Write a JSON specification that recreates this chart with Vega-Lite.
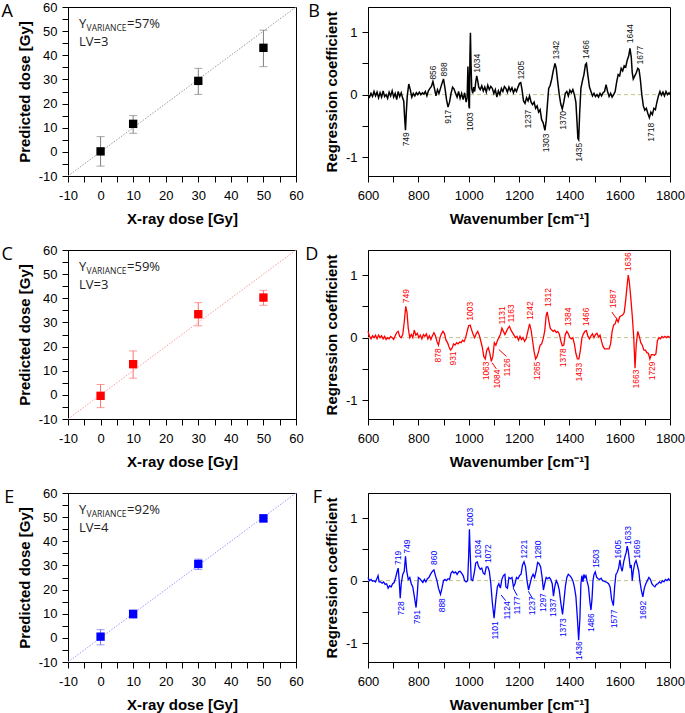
{
"$schema": "https://vega.github.io/schema/vega-lite/v6.json",
"background": "white",
"padding": {"left": 0, "top": 0, "right": 0, "bottom": 0},
"columns": 2,
"spacing": {"row": 74, "column": 72},
"bounds": "flush",
"config": {
  "view": {"stroke": "black", "strokeWidth": 1},
  "axis": {"grid": false, "domainColor": "black", "tickColor": "black", "tickSize": 6, "labelFont": "Liberation Sans", "labelFontSize": 13, "labelColor": "black", "labelPadding": 5, "titleFont": "Liberation Sans", "titleFontSize": 15, "titleFontWeight": "bold", "titleColor": "black", "titlePadding": 6, "labelOverlap": false, "labelFlush": false},
  "axisX": {"titlePadding": 9, "labelPadding": 7}
},
"datasets": {
  "A": [{"x":0,"y":0.2,"lo":-5.9,"hi":6.3},{"x":10,"y":11.6,"lo":7.7,"hi":15},{"x":30,"y":29.4,"lo":23.8,"hi":34.6},{"x":50,"y":43.1,"lo":35.3,"hi":50.4}],
  "C": [{"x":0,"y":-0.4,"lo":-5.3,"hi":4.3},{"x":10,"y":12.7,"lo":6.9,"hi":18.2},{"x":30,"y":33.4,"lo":28.6,"hi":38.2},{"x":50,"y":40.3,"lo":37.1,"hi":43.3}],
  "E": [{"x":0,"y":0.5,"lo":-2.9,"hi":3.4},{"x":10,"y":9.9,"lo":8.1,"hi":11.5},{"x":30,"y":30.6,"lo":28.3,"hi":32.6},{"x":50,"y":49.5,"lo":47.9,"hi":50.9}],
  "diag": [{"x":-10,"y":-10},{"x":60,"y":60}],
  "sB": [{"w":600,"c":0.0},{"w":606,"c":-0.04},{"w":612,"c":0.02},{"w":618,"c":-0.03},{"w":624,"c":0.05},{"w":630,"c":-0.02},{"w":636,"c":0.04},{"w":642,"c":-0.05},{"w":648,"c":0.03},{"w":654,"c":-0.04},{"w":660,"c":0.06},{"w":666,"c":-0.03},{"w":672,"c":0.0},{"w":678,"c":-0.06},{"w":684,"c":0.04},{"w":690,"c":-0.02},{"w":696,"c":0.06},{"w":702,"c":-0.04},{"w":708,"c":0.02},{"w":714,"c":-0.08},{"w":720,"c":0.05},{"w":726,"c":-0.03},{"w":732,"c":0.03},{"w":738,"c":-0.06},{"w":742,"c":-0.1},{"w":746,"c":-0.4},{"w":749,"c":-0.57},{"w":752,"c":-0.3},{"w":756,"c":-0.02},{"w":762,"c":0.17},{"w":768,"c":0.08},{"w":774,"c":-0.04},{"w":780,"c":0.02},{"w":786,"c":-0.02},{"w":792,"c":0.03},{"w":798,"c":0.0},{"w":804,"c":0.04},{"w":810,"c":0.0},{"w":816,"c":0.03},{"w":822,"c":0.01},{"w":828,"c":0.05},{"w":834,"c":-0.02},{"w":840,"c":0.06},{"w":846,"c":0.1},{"w":852,"c":0.13},{"w":858,"c":0.21},{"w":864,"c":0.1},{"w":870,"c":-0.02},{"w":876,"c":0.08},{"w":882,"c":0.02},{"w":888,"c":0.1},{"w":894,"c":0.18},{"w":900,"c":0.25},{"w":906,"c":0.1},{"w":912,"c":-0.08},{"w":918,"c":-0.2},{"w":924,"c":-0.12},{"w":930,"c":0.02},{"w":936,"c":0.12},{"w":942,"c":0.09},{"w":948,"c":0.02},{"w":954,"c":-0.04},{"w":960,"c":0.05},{"w":966,"c":-0.06},{"w":972,"c":0.02},{"w":978,"c":-0.08},{"w":984,"c":0.03},{"w":990,"c":-0.12},{"w":994,"c":-0.05},{"w":997,"c":0.45},{"w":999,"c":0.2},{"w":1001,"c":-0.18},{"w":1003,"c":-0.22},{"w":1005,"c":0.6},{"w":1007,"c":0.99},{"w":1009,"c":0.55},{"w":1012,"c":0.1},{"w":1016,"c":0.02},{"w":1020,"c":0.12},{"w":1024,"c":0.05},{"w":1028,"c":0.2},{"w":1032,"c":0.3},{"w":1036,"c":0.22},{"w":1040,"c":0.12},{"w":1046,"c":0.08},{"w":1052,"c":0.14},{"w":1058,"c":0.06},{"w":1064,"c":0.12},{"w":1070,"c":0.04},{"w":1076,"c":0.15},{"w":1082,"c":0.08},{"w":1088,"c":0.13},{"w":1094,"c":0.1},{"w":1100,"c":0.02},{"w":1106,"c":0.08},{"w":1112,"c":-0.04},{"w":1118,"c":0.06},{"w":1124,"c":0.0},{"w":1130,"c":0.1},{"w":1136,"c":0.05},{"w":1142,"c":0.13},{"w":1148,"c":0.1},{"w":1154,"c":0.04},{"w":1160,"c":0.12},{"w":1166,"c":0.06},{"w":1172,"c":0.11},{"w":1178,"c":0.03},{"w":1184,"c":0.09},{"w":1190,"c":0.05},{"w":1196,"c":0.12},{"w":1202,"c":0.18},{"w":1207,"c":0.19},{"w":1212,"c":0.08},{"w":1218,"c":-0.1},{"w":1224,"c":-0.14},{"w":1230,"c":-0.05},{"w":1236,"c":-0.1},{"w":1242,"c":-0.02},{"w":1248,"c":-0.12},{"w":1254,"c":-0.16},{"w":1260,"c":-0.12},{"w":1266,"c":-0.22},{"w":1272,"c":-0.18},{"w":1278,"c":-0.28},{"w":1284,"c":-0.24},{"w":1290,"c":-0.4},{"w":1296,"c":-0.45},{"w":1303,"c":-0.57},{"w":1308,"c":-0.42},{"w":1314,"c":-0.1},{"w":1318,"c":0.1},{"w":1324,"c":0.15},{"w":1330,"c":0.25},{"w":1336,"c":0.38},{"w":1343,"c":0.5},{"w":1348,"c":0.42},{"w":1354,"c":0.2},{"w":1360,"c":0.0},{"w":1366,"c":-0.15},{"w":1372,"c":-0.23},{"w":1378,"c":-0.12},{"w":1384,"c":0.02},{"w":1390,"c":0.05},{"w":1396,"c":-0.02},{"w":1402,"c":0.07},{"w":1408,"c":0.03},{"w":1414,"c":0.08},{"w":1420,"c":0.0},{"w":1426,"c":-0.12},{"w":1430,"c":-0.4},{"w":1434,"c":-0.7},{"w":1437,"c":-0.72},{"w":1441,"c":-0.3},{"w":1446,"c":0.1},{"w":1452,"c":0.22},{"w":1458,"c":0.32},{"w":1464,"c":0.48},{"w":1468,"c":0.5},{"w":1474,"c":0.3},{"w":1480,"c":0.12},{"w":1486,"c":0.05},{"w":1492,"c":-0.02},{"w":1498,"c":0.02},{"w":1504,"c":-0.03},{"w":1510,"c":0.0},{"w":1516,"c":-0.04},{"w":1522,"c":0.02},{"w":1528,"c":-0.02},{"w":1534,"c":0.03},{"w":1540,"c":0.05},{"w":1546,"c":0.16},{"w":1552,"c":0.05},{"w":1558,"c":-0.03},{"w":1564,"c":0.02},{"w":1570,"c":-0.04},{"w":1576,"c":0.0},{"w":1582,"c":0.05},{"w":1588,"c":0.2},{"w":1594,"c":0.32},{"w":1600,"c":0.3},{"w":1606,"c":0.42},{"w":1612,"c":0.38},{"w":1618,"c":0.46},{"w":1624,"c":0.44},{"w":1630,"c":0.55},{"w":1636,"c":0.62},{"w":1641,"c":0.74},{"w":1646,"c":0.6},{"w":1650,"c":0.35},{"w":1654,"c":0.25},{"w":1660,"c":0.3},{"w":1666,"c":0.35},{"w":1672,"c":0.42},{"w":1677,"c":0.4},{"w":1682,"c":0.25},{"w":1688,"c":0.0},{"w":1694,"c":-0.18},{"w":1700,"c":-0.25},{"w":1706,"c":-0.22},{"w":1712,"c":-0.3},{"w":1718,"c":-0.37},{"w":1724,"c":-0.28},{"w":1730,"c":-0.32},{"w":1736,"c":-0.22},{"w":1742,"c":-0.24},{"w":1748,"c":-0.12},{"w":1754,"c":-0.02},{"w":1760,"c":0.05},{"w":1766,"c":-0.01},{"w":1772,"c":0.04},{"w":1778,"c":-0.02},{"w":1784,"c":0.05},{"w":1790,"c":0.0},{"w":1796,"c":0.03},{"w":1800,"c":0.0}],
  "sD": [{"w":600,"c":0.1},{"w":606,"c":0.02},{"w":612,"c":-0.02},{"w":618,"c":0.03},{"w":624,"c":0.0},{"w":630,"c":0.04},{"w":636,"c":-0.02},{"w":642,"c":0.04},{"w":648,"c":0.0},{"w":654,"c":0.03},{"w":660,"c":-0.02},{"w":666,"c":0.02},{"w":672,"c":-0.03},{"w":678,"c":0.0},{"w":684,"c":-0.02},{"w":690,"c":0.02},{"w":696,"c":0.0},{"w":702,"c":-0.03},{"w":708,"c":0.03},{"w":714,"c":0.08},{"w":720,"c":0.1},{"w":726,"c":0.02},{"w":732,"c":0.0},{"w":738,"c":0.05},{"w":744,"c":0.25},{"w":750,"c":0.5},{"w":755,"c":0.4},{"w":760,"c":0.15},{"w":766,"c":0.0},{"w":772,"c":0.05},{"w":778,"c":0.0},{"w":784,"c":0.12},{"w":790,"c":0.04},{"w":796,"c":0.07},{"w":802,"c":0.0},{"w":808,"c":0.04},{"w":814,"c":-0.02},{"w":820,"c":0.05},{"w":826,"c":0.02},{"w":832,"c":0.06},{"w":838,"c":-0.02},{"w":844,"c":0.03},{"w":850,"c":-0.03},{"w":856,"c":0.03},{"w":862,"c":0.08},{"w":868,"c":0.03},{"w":874,"c":-0.06},{"w":880,"c":-0.12},{"w":886,"c":0.0},{"w":892,"c":0.06},{"w":898,"c":0.1},{"w":904,"c":0.06},{"w":910,"c":-0.04},{"w":916,"c":-0.08},{"w":922,"c":-0.15},{"w":928,"c":-0.2},{"w":934,"c":-0.17},{"w":940,"c":-0.1},{"w":946,"c":-0.12},{"w":952,"c":-0.08},{"w":958,"c":-0.1},{"w":964,"c":-0.07},{"w":970,"c":-0.08},{"w":976,"c":-0.04},{"w":982,"c":-0.06},{"w":988,"c":0.0},{"w":994,"c":0.1},{"w":1000,"c":0.19},{"w":1006,"c":0.2},{"w":1012,"c":0.12},{"w":1018,"c":0.05},{"w":1024,"c":0.0},{"w":1030,"c":0.06},{"w":1036,"c":0.1},{"w":1042,"c":0.04},{"w":1048,"c":-0.05},{"w":1054,"c":-0.15},{"w":1060,"c":-0.3},{"w":1066,"c":-0.34},{"w":1072,"c":-0.2},{"w":1078,"c":-0.16},{"w":1084,"c":-0.25},{"w":1090,"c":-0.38},{"w":1096,"c":-0.3},{"w":1102,"c":-0.08},{"w":1108,"c":-0.12},{"w":1114,"c":-0.05},{"w":1120,"c":0.0},{"w":1126,"c":0.05},{"w":1132,"c":0.15},{"w":1138,"c":0.1},{"w":1144,"c":0.05},{"w":1150,"c":0.1},{"w":1156,"c":0.15},{"w":1162,"c":0.18},{"w":1168,"c":0.12},{"w":1174,"c":0.08},{"w":1180,"c":0.04},{"w":1186,"c":0.0},{"w":1192,"c":0.02},{"w":1198,"c":-0.04},{"w":1204,"c":0.02},{"w":1210,"c":-0.03},{"w":1216,"c":0.0},{"w":1222,"c":-0.06},{"w":1228,"c":-0.02},{"w":1234,"c":0.08},{"w":1242,"c":0.22},{"w":1248,"c":0.12},{"w":1254,"c":-0.05},{"w":1260,"c":-0.22},{"w":1266,"c":-0.34},{"w":1272,"c":-0.3},{"w":1278,"c":-0.22},{"w":1284,"c":-0.12},{"w":1290,"c":-0.1},{"w":1296,"c":-0.02},{"w":1302,"c":0.1},{"w":1308,"c":0.35},{"w":1312,"c":0.41},{"w":1318,"c":0.28},{"w":1324,"c":0.15},{"w":1330,"c":0.12},{"w":1336,"c":0.1},{"w":1342,"c":0.12},{"w":1348,"c":0.08},{"w":1354,"c":0.1},{"w":1360,"c":0.06},{"w":1366,"c":-0.05},{"w":1372,"c":-0.13},{"w":1378,"c":-0.12},{"w":1384,"c":0.05},{"w":1390,"c":0.1},{"w":1396,"c":0.06},{"w":1402,"c":0.0},{"w":1408,"c":-0.02},{"w":1414,"c":0.0},{"w":1420,"c":-0.1},{"w":1426,"c":-0.25},{"w":1432,"c":-0.34},{"w":1438,"c":-0.34},{"w":1444,"c":-0.2},{"w":1450,"c":0.0},{"w":1456,"c":0.06},{"w":1462,"c":0.1},{"w":1468,"c":0.11},{"w":1474,"c":0.02},{"w":1480,"c":-0.02},{"w":1486,"c":0.03},{"w":1492,"c":0.06},{"w":1498,"c":0.0},{"w":1504,"c":0.05},{"w":1510,"c":0.07},{"w":1516,"c":0.01},{"w":1522,"c":0.04},{"w":1528,"c":-0.06},{"w":1534,"c":-0.14},{"w":1540,"c":-0.18},{"w":1546,"c":-0.18},{"w":1552,"c":-0.18},{"w":1558,"c":-0.18},{"w":1564,"c":-0.1},{"w":1570,"c":0.1},{"w":1576,"c":0.2},{"w":1582,"c":0.22},{"w":1588,"c":0.3},{"w":1594,"c":0.25},{"w":1600,"c":0.33},{"w":1606,"c":0.35},{"w":1612,"c":0.36},{"w":1618,"c":0.4},{"w":1624,"c":0.6},{"w":1630,"c":0.85},{"w":1634,"c":1.0},{"w":1638,"c":0.9},{"w":1644,"c":0.65},{"w":1650,"c":0.35},{"w":1656,"c":0.0},{"w":1661,"c":-0.49},{"w":1666,"c":-0.1},{"w":1672,"c":0.1},{"w":1678,"c":0.02},{"w":1684,"c":-0.08},{"w":1690,"c":-0.12},{"w":1696,"c":-0.2},{"w":1702,"c":-0.2},{"w":1708,"c":-0.24},{"w":1714,"c":-0.25},{"w":1720,"c":-0.34},{"w":1726,"c":-0.27},{"w":1732,"c":-0.27},{"w":1738,"c":-0.28},{"w":1744,"c":-0.26},{"w":1750,"c":-0.05},{"w":1756,"c":0.0},{"w":1762,"c":-0.02},{"w":1768,"c":0.02},{"w":1774,"c":0.0},{"w":1780,"c":0.02},{"w":1786,"c":0.0},{"w":1792,"c":0.02},{"w":1800,"c":0.0}],
  "sF": [{"w":600,"c":0.05},{"w":606,"c":0.0},{"w":612,"c":0.02},{"w":618,"c":-0.01},{"w":624,"c":0.0},{"w":630,"c":-0.02},{"w":636,"c":0.04},{"w":640,"c":0.08},{"w":644,"c":-0.02},{"w":650,"c":-0.02},{"w":656,"c":-0.04},{"w":662,"c":-0.02},{"w":668,"c":-0.06},{"w":674,"c":-0.05},{"w":680,"c":-0.12},{"w":686,"c":-0.08},{"w":692,"c":-0.1},{"w":698,"c":-0.05},{"w":704,"c":-0.03},{"w":710,"c":0.05},{"w":716,"c":0.15},{"w":720,"c":0.2},{"w":724,"c":0.0},{"w":728,"c":-0.28},{"w":732,"c":-0.05},{"w":738,"c":0.1},{"w":744,"c":0.15},{"w":749,"c":0.39},{"w":754,"c":0.15},{"w":760,"c":0.02},{"w":766,"c":0.05},{"w":772,"c":-0.05},{"w":778,"c":-0.1},{"w":784,"c":-0.25},{"w":791,"c":-0.43},{"w":796,"c":-0.2},{"w":800,"c":0.05},{"w":806,"c":0.03},{"w":812,"c":0.0},{"w":818,"c":-0.03},{"w":824,"c":0.02},{"w":830,"c":-0.02},{"w":836,"c":0.03},{"w":842,"c":0.05},{"w":848,"c":0.1},{"w":856,"c":0.15},{"w":862,"c":0.17},{"w":868,"c":0.08},{"w":874,"c":0.0},{"w":880,"c":-0.12},{"w":888,"c":-0.22},{"w":894,"c":-0.12},{"w":900,"c":0.0},{"w":906,"c":0.02},{"w":912,"c":0.0},{"w":918,"c":0.03},{"w":924,"c":0.02},{"w":930,"c":0.12},{"w":936,"c":0.15},{"w":942,"c":0.12},{"w":948,"c":0.14},{"w":954,"c":0.1},{"w":960,"c":0.14},{"w":966,"c":0.15},{"w":972,"c":0.12},{"w":978,"c":0.08},{"w":984,"c":0.0},{"w":990,"c":-0.02},{"w":996,"c":0.0},{"w":1000,"c":0.4},{"w":1003,"c":0.82},{"w":1006,"c":0.45},{"w":1010,"c":0.02},{"w":1016,"c":0.0},{"w":1022,"c":0.12},{"w":1028,"c":0.28},{"w":1034,"c":0.3},{"w":1040,"c":0.22},{"w":1046,"c":0.18},{"w":1052,"c":0.2},{"w":1058,"c":0.12},{"w":1064,"c":0.1},{"w":1070,"c":0.22},{"w":1076,"c":0.22},{"w":1082,"c":0.15},{"w":1088,"c":-0.05},{"w":1094,"c":-0.35},{"w":1101,"c":-0.6},{"w":1108,"c":-0.3},{"w":1114,"c":-0.1},{"w":1120,"c":-0.05},{"w":1126,"c":-0.12},{"w":1132,"c":0.02},{"w":1138,"c":0.08},{"w":1144,"c":0.1},{"w":1148,"c":-0.1},{"w":1154,"c":-0.12},{"w":1160,"c":0.05},{"w":1166,"c":0.03},{"w":1172,"c":0.05},{"w":1178,"c":-0.1},{"w":1184,"c":-0.05},{"w":1190,"c":0.05},{"w":1196,"c":0.03},{"w":1202,"c":0.08},{"w":1208,"c":0.1},{"w":1214,"c":0.25},{"w":1220,"c":0.3},{"w":1226,"c":0.22},{"w":1232,"c":0.0},{"w":1238,"c":-0.15},{"w":1244,"c":-0.05},{"w":1250,"c":0.05},{"w":1256,"c":0.1},{"w":1262,"c":0.05},{"w":1268,"c":0.15},{"w":1274,"c":0.29},{"w":1280,"c":0.27},{"w":1286,"c":0.22},{"w":1292,"c":0.05},{"w":1297,"c":-0.15},{"w":1302,"c":-0.05},{"w":1308,"c":0.05},{"w":1314,"c":0.03},{"w":1320,"c":0.05},{"w":1326,"c":0.02},{"w":1332,"c":-0.05},{"w":1337,"c":-0.25},{"w":1342,"c":-0.1},{"w":1348,"c":0.0},{"w":1354,"c":-0.05},{"w":1360,"c":-0.15},{"w":1366,"c":-0.35},{"w":1373,"c":-0.54},{"w":1378,"c":-0.35},{"w":1384,"c":-0.1},{"w":1390,"c":0.05},{"w":1396,"c":0.1},{"w":1402,"c":0.08},{"w":1408,"c":0.05},{"w":1414,"c":0.0},{"w":1420,"c":-0.1},{"w":1426,"c":-0.25},{"w":1432,"c":-0.6},{"w":1437,"c":-0.95},{"w":1442,"c":-0.6},{"w":1446,"c":-0.05},{"w":1450,"c":0.08},{"w":1454,"c":-0.02},{"w":1458,"c":0.1},{"w":1462,"c":0.05},{"w":1466,"c":0.08},{"w":1470,"c":0.0},{"w":1476,"c":-0.1},{"w":1482,"c":-0.35},{"w":1486,"c":-0.47},{"w":1490,"c":-0.3},{"w":1494,"c":0.0},{"w":1498,"c":0.1},{"w":1503,"c":0.14},{"w":1508,"c":0.06},{"w":1514,"c":0.03},{"w":1520,"c":0.02},{"w":1526,"c":0.04},{"w":1532,"c":0.0},{"w":1538,"c":-0.01},{"w":1544,"c":-0.02},{"w":1550,"c":-0.03},{"w":1556,"c":-0.05},{"w":1562,"c":-0.1},{"w":1568,"c":-0.3},{"w":1575,"c":-0.4},{"w":1580,"c":-0.1},{"w":1585,"c":0.1},{"w":1590,"c":0.13},{"w":1596,"c":0.2},{"w":1601,"c":0.33},{"w":1606,"c":0.2},{"w":1610,"c":0.15},{"w":1616,"c":0.3},{"w":1622,"c":0.4},{"w":1626,"c":0.45},{"w":1630,"c":0.55},{"w":1634,"c":0.48},{"w":1638,"c":0.35},{"w":1642,"c":0.2},{"w":1646,"c":0.25},{"w":1650,"c":0.0},{"w":1654,"c":0.15},{"w":1660,"c":0.28},{"w":1665,"c":0.32},{"w":1670,"c":0.25},{"w":1676,"c":0.15},{"w":1680,"c":0.0},{"w":1686,"c":-0.15},{"w":1692,"c":-0.26},{"w":1698,"c":-0.12},{"w":1704,"c":-0.05},{"w":1710,"c":0.0},{"w":1716,"c":0.05},{"w":1722,"c":0.02},{"w":1728,"c":-0.05},{"w":1734,"c":-0.08},{"w":1740,"c":-0.1},{"w":1746,"c":-0.06},{"w":1752,"c":-0.05},{"w":1758,"c":-0.02},{"w":1764,"c":-0.04},{"w":1770,"c":0.0},{"w":1776,"c":-0.02},{"w":1782,"c":0.02},{"w":1788,"c":0.0},{"w":1794,"c":0.03},{"w":1800,"c":0.0}],
  "lB": [{"w":751,"c":-0.6,"t":"749","d":"d"},{"w":859,"c":0.24,"t":"856","d":"u"},{"w":902,"c":0.29,"t":"898","d":"u"},{"w":919,"c":-0.24,"t":"917","d":"d"},{"w":1004,"c":-0.28,"t":"1003","d":"d"},{"w":1032,"c":0.35,"t":"1034","d":"u"},{"w":1207,"c":0.24,"t":"1205","d":"u"},{"w":1237,"c":-0.24,"t":"1237","d":"d"},{"w":1306,"c":-0.62,"t":"1303","d":"d"},{"w":1348,"c":0.56,"t":"1342","d":"u"},{"w":1376,"c":-0.26,"t":"1370","d":"d"},{"w":1438,"c":-0.77,"t":"1435","d":"d"},{"w":1466,"c":0.57,"t":"1466","d":"u"},{"w":1641,"c":0.82,"t":"1644","d":"u"},{"w":1680,"c":0.48,"t":"1677","d":"u"},{"w":1723,"c":-0.45,"t":"1718","d":"d"}],
  "lD": [{"w":751,"c":0.55,"t":"749","d":"u"},{"w":880,"c":-0.17,"t":"878","d":"d"},{"w":936,"c":-0.22,"t":"931","d":"d"},{"w":1004,"c":0.27,"t":"1003","d":"u"},{"w":1067,"c":-0.38,"t":"1063","d":"d"},{"w":1113,"c":-0.51,"t":"1084","d":"d"},{"w":1151,"c":-0.33,"t":"1126","d":"d"},{"w":1133,"c":0.21,"t":"1131","d":"u"},{"w":1167,"c":0.24,"t":"1163","d":"u"},{"w":1244,"c":0.28,"t":"1242","d":"u"},{"w":1270,"c":-0.38,"t":"1265","d":"d"},{"w":1316,"c":0.49,"t":"1312","d":"u"},{"w":1376,"c":-0.17,"t":"1378","d":"d"},{"w":1393,"c":0.18,"t":"1384","d":"u"},{"w":1438,"c":-0.4,"t":"1433","d":"d"},{"w":1466,"c":0.18,"t":"1466","d":"u"},{"w":1572,"c":0.47,"t":"1587","d":"u"},{"w":1634,"c":1.06,"t":"1636","d":"u"},{"w":1663,"c":-0.51,"t":"1663","d":"d"},{"w":1727,"c":-0.38,"t":"1729","d":"d"}],
  "lF": [{"w":720,"c":0.25,"t":"719","d":"u"},{"w":753,"c":0.43,"t":"749","d":"u"},{"w":731,"c":-0.33,"t":"728","d":"d"},{"w":793,"c":-0.47,"t":"791","d":"d"},{"w":863,"c":0.25,"t":"860","d":"u"},{"w":893,"c":-0.28,"t":"888","d":"d"},{"w":1007,"c":0.86,"t":"1003","d":"u"},{"w":1037,"c":0.35,"t":"1034","d":"u"},{"w":1076,"c":0.28,"t":"1072","d":"u"},{"w":1104,"c":-0.65,"t":"1101","d":"d"},{"w":1153,"c":-0.33,"t":"1124","d":"d"},{"w":1193,"c":-0.25,"t":"1177","d":"d"},{"w":1220,"c":0.35,"t":"1221","d":"u"},{"w":1253,"c":-0.25,"t":"1237","d":"d"},{"w":1274,"c":0.34,"t":"1280","d":"u"},{"w":1294,"c":-0.2,"t":"1297","d":"d"},{"w":1336,"c":-0.28,"t":"1337","d":"d"},{"w":1373,"c":-0.6,"t":"1373","d":"d"},{"w":1438,"c":-0.97,"t":"1436","d":"d"},{"w":1485,"c":-0.52,"t":"1486","d":"d"},{"w":1505,"c":0.2,"t":"1503","d":"u"},{"w":1577,"c":-0.46,"t":"1577","d":"d"},{"w":1595,"c":0.35,"t":"1605","d":"u"},{"w":1632,"c":0.57,"t":"1633","d":"u"},{"w":1668,"c":0.35,"t":"1669","d":"u"},{"w":1692,"c":-0.32,"t":"1692","d":"d"}],
  "aD": [{"w":1093,"c":-0.4,"w2":1110,"c2":-0.5},{"w":1120,"c":-0.19,"w2":1150,"c2":-0.3},{"w":1569,"c":0.41,"w2":1586,"c2":0.31}],
  "aF": [{"w":1129,"c":-0.23,"w2":1147,"c2":-0.32},{"w":1177,"c":-0.12,"w2":1193,"c2":-0.24},{"w":1237,"c":-0.17,"w2":1253,"c2":-0.28}]
},
"concat": [
 {"width": 228, "height": 169,
  "title": {"text": "A", "orient": "left", "anchor": "end", "angle": 0, "align": "right", "baseline": "top", "fontSize": 18, "font": "Open Sans", "fontWeight": "normal", "color": "black", "offset": -7, "frame": "group", "dy": -4},
  "layer": [
   {"data": {"name": "diag"}, "mark": {"type": "line", "color": "#999999", "strokeDash": [1.5, 1.5], "strokeWidth": 1},
    "encoding": {"x": {"field": "x", "type": "quantitative", "scale": {"domain": [-10, 60], "nice": false}, "axis": {"title": "X-ray dose [Gy]", "labelOverlap": false, "tickCount": 100, "values": [-10,-5,0,5,10,15,20,25,30,35,40,45,50,55,60], "labelExpr": "datum.value % 10 === 0 ? '' + datum.value : ''"}},
                 "y": {"field": "y", "type": "quantitative", "scale": {"domain": [-10, 60], "nice": false}, "axis": {"title": "Predicted dose [Gy]", "labelOverlap": false, "tickCount": 100, "values": [-10,-5,0,5,10,15,20,25,30,35,40,45,50,55,60], "labelExpr": "datum.value % 10 === 0 ? '' + datum.value : ''"}}}},
   {"data": {"name": "A"}, "mark": {"type": "rule", "color": "#808080", "strokeWidth": 1},
    "encoding": {"x": {"field": "x", "type": "quantitative", "scale": {"domain": [-10, 60], "nice": false}}, "y": {"field": "lo", "type": "quantitative", "scale": {"domain": [-10, 60], "nice": false}}, "y2": {"field": "hi"}}},
   {"data": {"name": "A"}, "mark": {"type": "tick", "orient": "horizontal", "color": "#808080", "size": 8, "thickness": 1},
    "encoding": {"x": {"field": "x", "type": "quantitative", "scale": {"domain": [-10, 60], "nice": false}}, "y": {"field": "lo", "type": "quantitative", "scale": {"domain": [-10, 60], "nice": false}}}},
   {"data": {"name": "A"}, "mark": {"type": "tick", "orient": "horizontal", "color": "#808080", "size": 8, "thickness": 1},
    "encoding": {"x": {"field": "x", "type": "quantitative", "scale": {"domain": [-10, 60], "nice": false}}, "y": {"field": "hi", "type": "quantitative", "scale": {"domain": [-10, 60], "nice": false}}}},
   {"data": {"name": "A"}, "mark": {"type": "square", "filled": true, "opacity": 1, "color": "#000000", "size": 70},
    "encoding": {"x": {"field": "x", "type": "quantitative", "scale": {"domain": [-10, 60], "nice": false}}, "y": {"field": "y", "type": "quantitative", "scale": {"domain": [-10, 60], "nice": false}}}},
   {"data": {"values": [{"t": "Y"}]}, "mark": {"type": "text", "align": "left", "baseline": "middle", "font": "Open Sans", "fontSize": 13, "color": "#222222"},
    "encoding": {"x": {"datum": -6.6, "type": "quantitative"}, "y": {"datum": 53, "type": "quantitative"}, "text": {"field": "t"}}},
   {"data": {"values": [{"t": "VARIANCE"}]}, "mark": {"type": "text", "align": "left", "baseline": "middle", "font": "Open Sans", "fontSize": 8.5, "color": "#222222", "dx": 7.5, "dy": 4},
    "encoding": {"x": {"datum": -6.6, "type": "quantitative"}, "y": {"datum": 53, "type": "quantitative"}, "text": {"field": "t"}}},
   {"data": {"values": [{"t": "=57%"}]}, "mark": {"type": "text", "align": "left", "baseline": "middle", "font": "Open Sans", "fontSize": 13, "color": "#222222", "dx": 48},
    "encoding": {"x": {"datum": -6.6, "type": "quantitative"}, "y": {"datum": 53, "type": "quantitative"}, "text": {"field": "t"}}},
   {"data": {"values": [{"t": "LV=3"}]}, "mark": {"type": "text", "align": "left", "baseline": "middle", "font": "Open Sans", "fontSize": 13, "color": "#222222"},
    "encoding": {"x": {"datum": -6.6, "type": "quantitative"}, "y": {"datum": 45.5, "type": "quantitative"}, "text": {"field": "t"}}}
  ]},
 {"width": 302, "height": 169,
  "title": {"text": "B", "orient": "left", "anchor": "end", "angle": 0, "align": "right", "baseline": "top", "fontSize": 18, "font": "Open Sans", "fontWeight": "normal", "color": "black", "offset": -7, "frame": "group", "dy": -4},
  "layer": [
   {"data": {"values": [{}]}, "mark": {"type": "rule", "color": "#c2c28c", "strokeDash": [4, 3], "strokeWidth": 1},
    "encoding": {"y": {"datum": 0, "type": "quantitative", "scale": {"domain": [-1.3, 1.4], "nice": false}}}},
   {"data": {"name": "sB"}, "mark": {"type": "line", "color": "#000000", "strokeWidth": 1.5},
    "encoding": {"x": {"field": "w", "type": "quantitative", "scale": {"domain": [600, 1800], "nice": false}, "axis": {"title": "Wavenumber [cm⁻¹]", "labelOverlap": false, "tickCount": 100, "values": [600,700,800,900,1000,1100,1200,1300,1400,1500,1600,1700,1800], "labelExpr": "datum.value % 200 === 0 ? '' + datum.value : ''"}},
                 "y": {"field": "c", "type": "quantitative", "scale": {"domain": [-1.3, 1.4], "nice": false}, "axis": {"title": "Regression coefficient", "labelOverlap": false, "tickCount": 100, "values": [-1, -0.5, 0, 0.5, 1], "labelExpr": "datum.value === 1 || datum.value === 0 || datum.value === -1 ? '' + datum.value : ''"}}}},
   {"data": {"name": "lB"}, "transform": [{"filter": "datum.d === 'u'"}], "mark": {"type": "text", "angle": 270, "align": "left", "baseline": "middle", "font": "Liberation Sans", "fontSize": 8.5, "color": "#111111"},
    "encoding": {"x": {"field": "w", "type": "quantitative", "scale": {"domain": [600, 1800], "nice": false}}, "y": {"field": "c", "type": "quantitative", "scale": {"domain": [-1.3, 1.4], "nice": false}}, "text": {"field": "t"}}},
   {"data": {"name": "lB"}, "transform": [{"filter": "datum.d === 'd'"}], "mark": {"type": "text", "angle": 270, "align": "right", "baseline": "middle", "font": "Liberation Sans", "fontSize": 8.5, "color": "#111111"},
    "encoding": {"x": {"field": "w", "type": "quantitative", "scale": {"domain": [600, 1800], "nice": false}}, "y": {"field": "c", "type": "quantitative", "scale": {"domain": [-1.3, 1.4], "nice": false}}, "text": {"field": "t"}}}
  ]},
 {"width": 228, "height": 169,
  "title": {"text": "C", "orient": "left", "anchor": "end", "angle": 0, "align": "right", "baseline": "top", "fontSize": 18, "font": "Open Sans", "fontWeight": "normal", "color": "black", "offset": -7, "frame": "group", "dy": -4},
  "layer": [
   {"data": {"name": "diag"}, "mark": {"type": "line", "color": "#ff9a9a", "strokeDash": [1.5, 1.5], "strokeWidth": 1},
    "encoding": {"x": {"field": "x", "type": "quantitative", "scale": {"domain": [-10, 60], "nice": false}, "axis": {"title": "X-ray dose [Gy]", "labelOverlap": false, "tickCount": 100, "values": [-10,-5,0,5,10,15,20,25,30,35,40,45,50,55,60], "labelExpr": "datum.value % 10 === 0 ? '' + datum.value : ''"}},
                 "y": {"field": "y", "type": "quantitative", "scale": {"domain": [-10, 60], "nice": false}, "axis": {"title": "Predicted dose [Gy]", "labelOverlap": false, "tickCount": 100, "values": [-10,-5,0,5,10,15,20,25,30,35,40,45,50,55,60], "labelExpr": "datum.value % 10 === 0 ? '' + datum.value : ''"}}}},
   {"data": {"name": "C"}, "mark": {"type": "rule", "color": "#ff7070", "strokeWidth": 1},
    "encoding": {"x": {"field": "x", "type": "quantitative", "scale": {"domain": [-10, 60], "nice": false}}, "y": {"field": "lo", "type": "quantitative", "scale": {"domain": [-10, 60], "nice": false}}, "y2": {"field": "hi"}}},
   {"data": {"name": "C"}, "mark": {"type": "tick", "orient": "horizontal", "color": "#ff7070", "size": 8, "thickness": 1},
    "encoding": {"x": {"field": "x", "type": "quantitative", "scale": {"domain": [-10, 60], "nice": false}}, "y": {"field": "lo", "type": "quantitative", "scale": {"domain": [-10, 60], "nice": false}}}},
   {"data": {"name": "C"}, "mark": {"type": "tick", "orient": "horizontal", "color": "#ff7070", "size": 8, "thickness": 1},
    "encoding": {"x": {"field": "x", "type": "quantitative", "scale": {"domain": [-10, 60], "nice": false}}, "y": {"field": "hi", "type": "quantitative", "scale": {"domain": [-10, 60], "nice": false}}}},
   {"data": {"name": "C"}, "mark": {"type": "square", "filled": true, "opacity": 1, "color": "#ff0000", "size": 70},
    "encoding": {"x": {"field": "x", "type": "quantitative", "scale": {"domain": [-10, 60], "nice": false}}, "y": {"field": "y", "type": "quantitative", "scale": {"domain": [-10, 60], "nice": false}}}},
   {"data": {"values": [{"t": "Y"}]}, "mark": {"type": "text", "align": "left", "baseline": "middle", "font": "Open Sans", "fontSize": 13, "color": "#222222"},
    "encoding": {"x": {"datum": -6.6, "type": "quantitative"}, "y": {"datum": 53, "type": "quantitative"}, "text": {"field": "t"}}},
   {"data": {"values": [{"t": "VARIANCE"}]}, "mark": {"type": "text", "align": "left", "baseline": "middle", "font": "Open Sans", "fontSize": 8.5, "color": "#222222", "dx": 7.5, "dy": 4},
    "encoding": {"x": {"datum": -6.6, "type": "quantitative"}, "y": {"datum": 53, "type": "quantitative"}, "text": {"field": "t"}}},
   {"data": {"values": [{"t": "=59%"}]}, "mark": {"type": "text", "align": "left", "baseline": "middle", "font": "Open Sans", "fontSize": 13, "color": "#222222", "dx": 48},
    "encoding": {"x": {"datum": -6.6, "type": "quantitative"}, "y": {"datum": 53, "type": "quantitative"}, "text": {"field": "t"}}},
   {"data": {"values": [{"t": "LV=3"}]}, "mark": {"type": "text", "align": "left", "baseline": "middle", "font": "Open Sans", "fontSize": 13, "color": "#222222"},
    "encoding": {"x": {"datum": -6.6, "type": "quantitative"}, "y": {"datum": 45.5, "type": "quantitative"}, "text": {"field": "t"}}}
  ]},
 {"width": 302, "height": 169,
  "title": {"text": "D", "orient": "left", "anchor": "end", "angle": 0, "align": "right", "baseline": "top", "fontSize": 18, "font": "Open Sans", "fontWeight": "normal", "color": "black", "offset": -7, "frame": "group", "dy": -4},
  "layer": [
   {"data": {"values": [{}]}, "mark": {"type": "rule", "color": "#c2c28c", "strokeDash": [4, 3], "strokeWidth": 1},
    "encoding": {"y": {"datum": 0, "type": "quantitative", "scale": {"domain": [-1.3, 1.4], "nice": false}}}},
   {"data": {"name": "sD"}, "mark": {"type": "line", "color": "#ff0000", "strokeWidth": 1.3},
    "encoding": {"x": {"field": "w", "type": "quantitative", "scale": {"domain": [600, 1800], "nice": false}, "axis": {"title": "Wavenumber [cm⁻¹]", "labelOverlap": false, "tickCount": 100, "values": [600,700,800,900,1000,1100,1200,1300,1400,1500,1600,1700,1800], "labelExpr": "datum.value % 200 === 0 ? '' + datum.value : ''"}},
                 "y": {"field": "c", "type": "quantitative", "scale": {"domain": [-1.3, 1.4], "nice": false}, "axis": {"title": "Regression coefficient", "labelOverlap": false, "tickCount": 100, "values": [-1, -0.5, 0, 0.5, 1], "labelExpr": "datum.value === 1 || datum.value === 0 || datum.value === -1 ? '' + datum.value : ''"}}}},
   {"data": {"name": "aD"}, "mark": {"type": "rule", "color": "#ff0000", "strokeWidth": 1},
    "encoding": {"x": {"field": "w", "type": "quantitative", "scale": {"domain": [600, 1800], "nice": false}}, "y": {"field": "c", "type": "quantitative", "scale": {"domain": [-1.3, 1.4], "nice": false}}, "x2": {"field": "w2"}, "y2": {"field": "c2"}}},
   {"data": {"name": "lD"}, "transform": [{"filter": "datum.d === 'u'"}], "mark": {"type": "text", "angle": 270, "align": "left", "baseline": "middle", "font": "Liberation Sans", "fontSize": 8.5, "color": "#ff0000"},
    "encoding": {"x": {"field": "w", "type": "quantitative", "scale": {"domain": [600, 1800], "nice": false}}, "y": {"field": "c", "type": "quantitative", "scale": {"domain": [-1.3, 1.4], "nice": false}}, "text": {"field": "t"}}},
   {"data": {"name": "lD"}, "transform": [{"filter": "datum.d === 'd'"}], "mark": {"type": "text", "angle": 270, "align": "right", "baseline": "middle", "font": "Liberation Sans", "fontSize": 8.5, "color": "#ff0000"},
    "encoding": {"x": {"field": "w", "type": "quantitative", "scale": {"domain": [600, 1800], "nice": false}}, "y": {"field": "c", "type": "quantitative", "scale": {"domain": [-1.3, 1.4], "nice": false}}, "text": {"field": "t"}}}
  ]},
 {"width": 228, "height": 169,
  "title": {"text": "E", "orient": "left", "anchor": "end", "angle": 0, "align": "right", "baseline": "top", "fontSize": 18, "font": "Open Sans", "fontWeight": "normal", "color": "black", "offset": -7, "frame": "group", "dy": -4},
  "layer": [
   {"data": {"name": "diag"}, "mark": {"type": "line", "color": "#9a9aff", "strokeDash": [1.5, 1.5], "strokeWidth": 1},
    "encoding": {"x": {"field": "x", "type": "quantitative", "scale": {"domain": [-10, 60], "nice": false}, "axis": {"title": "X-ray dose [Gy]", "labelOverlap": false, "tickCount": 100, "values": [-10,-5,0,5,10,15,20,25,30,35,40,45,50,55,60], "labelExpr": "datum.value % 10 === 0 ? '' + datum.value : ''"}},
                 "y": {"field": "y", "type": "quantitative", "scale": {"domain": [-10, 60], "nice": false}, "axis": {"title": "Predicted dose [Gy]", "labelOverlap": false, "tickCount": 100, "values": [-10,-5,0,5,10,15,20,25,30,35,40,45,50,55,60], "labelExpr": "datum.value % 10 === 0 ? '' + datum.value : ''"}}}},
   {"data": {"name": "E"}, "mark": {"type": "rule", "color": "#7070ff", "strokeWidth": 1},
    "encoding": {"x": {"field": "x", "type": "quantitative", "scale": {"domain": [-10, 60], "nice": false}}, "y": {"field": "lo", "type": "quantitative", "scale": {"domain": [-10, 60], "nice": false}}, "y2": {"field": "hi"}}},
   {"data": {"name": "E"}, "mark": {"type": "tick", "orient": "horizontal", "color": "#7070ff", "size": 8, "thickness": 1},
    "encoding": {"x": {"field": "x", "type": "quantitative", "scale": {"domain": [-10, 60], "nice": false}}, "y": {"field": "lo", "type": "quantitative", "scale": {"domain": [-10, 60], "nice": false}}}},
   {"data": {"name": "E"}, "mark": {"type": "tick", "orient": "horizontal", "color": "#7070ff", "size": 8, "thickness": 1},
    "encoding": {"x": {"field": "x", "type": "quantitative", "scale": {"domain": [-10, 60], "nice": false}}, "y": {"field": "hi", "type": "quantitative", "scale": {"domain": [-10, 60], "nice": false}}}},
   {"data": {"name": "E"}, "mark": {"type": "square", "filled": true, "opacity": 1, "color": "#0000ff", "size": 70},
    "encoding": {"x": {"field": "x", "type": "quantitative", "scale": {"domain": [-10, 60], "nice": false}}, "y": {"field": "y", "type": "quantitative", "scale": {"domain": [-10, 60], "nice": false}}}},
   {"data": {"values": [{"t": "Y"}]}, "mark": {"type": "text", "align": "left", "baseline": "middle", "font": "Open Sans", "fontSize": 13, "color": "#222222"},
    "encoding": {"x": {"datum": -6.6, "type": "quantitative"}, "y": {"datum": 53, "type": "quantitative"}, "text": {"field": "t"}}},
   {"data": {"values": [{"t": "VARIANCE"}]}, "mark": {"type": "text", "align": "left", "baseline": "middle", "font": "Open Sans", "fontSize": 8.5, "color": "#222222", "dx": 7.5, "dy": 4},
    "encoding": {"x": {"datum": -6.6, "type": "quantitative"}, "y": {"datum": 53, "type": "quantitative"}, "text": {"field": "t"}}},
   {"data": {"values": [{"t": "=92%"}]}, "mark": {"type": "text", "align": "left", "baseline": "middle", "font": "Open Sans", "fontSize": 13, "color": "#222222", "dx": 48},
    "encoding": {"x": {"datum": -6.6, "type": "quantitative"}, "y": {"datum": 53, "type": "quantitative"}, "text": {"field": "t"}}},
   {"data": {"values": [{"t": "LV=4"}]}, "mark": {"type": "text", "align": "left", "baseline": "middle", "font": "Open Sans", "fontSize": 13, "color": "#222222"},
    "encoding": {"x": {"datum": -6.6, "type": "quantitative"}, "y": {"datum": 45.5, "type": "quantitative"}, "text": {"field": "t"}}}
  ]},
 {"width": 302, "height": 169,
  "title": {"text": "F", "orient": "left", "anchor": "end", "angle": 0, "align": "right", "baseline": "top", "fontSize": 18, "font": "Open Sans", "fontWeight": "normal", "color": "black", "offset": -7, "frame": "group", "dy": -4},
  "layer": [
   {"data": {"values": [{}]}, "mark": {"type": "rule", "color": "#c2c28c", "strokeDash": [4, 3], "strokeWidth": 1},
    "encoding": {"y": {"datum": 0, "type": "quantitative", "scale": {"domain": [-1.3, 1.4], "nice": false}}}},
   {"data": {"name": "sF"}, "mark": {"type": "line", "color": "#0000ff", "strokeWidth": 1.3},
    "encoding": {"x": {"field": "w", "type": "quantitative", "scale": {"domain": [600, 1800], "nice": false}, "axis": {"title": "Wavenumber [cm⁻¹]", "labelOverlap": false, "tickCount": 100, "values": [600,700,800,900,1000,1100,1200,1300,1400,1500,1600,1700,1800], "labelExpr": "datum.value % 200 === 0 ? '' + datum.value : ''"}},
                 "y": {"field": "c", "type": "quantitative", "scale": {"domain": [-1.3, 1.4], "nice": false}, "axis": {"title": "Regression coefficient", "labelOverlap": false, "tickCount": 100, "values": [-1, -0.5, 0, 0.5, 1], "labelExpr": "datum.value === 1 || datum.value === 0 || datum.value === -1 ? '' + datum.value : ''"}}}},
   {"data": {"name": "aF"}, "mark": {"type": "rule", "color": "#0000ff", "strokeWidth": 1},
    "encoding": {"x": {"field": "w", "type": "quantitative", "scale": {"domain": [600, 1800], "nice": false}}, "y": {"field": "c", "type": "quantitative", "scale": {"domain": [-1.3, 1.4], "nice": false}}, "x2": {"field": "w2"}, "y2": {"field": "c2"}}},
   {"data": {"name": "lF"}, "transform": [{"filter": "datum.d === 'u'"}], "mark": {"type": "text", "angle": 270, "align": "left", "baseline": "middle", "font": "Liberation Sans", "fontSize": 8.5, "color": "#0000ff"},
    "encoding": {"x": {"field": "w", "type": "quantitative", "scale": {"domain": [600, 1800], "nice": false}}, "y": {"field": "c", "type": "quantitative", "scale": {"domain": [-1.3, 1.4], "nice": false}}, "text": {"field": "t"}}},
   {"data": {"name": "lF"}, "transform": [{"filter": "datum.d === 'd'"}], "mark": {"type": "text", "angle": 270, "align": "right", "baseline": "middle", "font": "Liberation Sans", "fontSize": 8.5, "color": "#0000ff"},
    "encoding": {"x": {"field": "w", "type": "quantitative", "scale": {"domain": [600, 1800], "nice": false}}, "y": {"field": "c", "type": "quantitative", "scale": {"domain": [-1.3, 1.4], "nice": false}}, "text": {"field": "t"}}}
  ]}
]
}
